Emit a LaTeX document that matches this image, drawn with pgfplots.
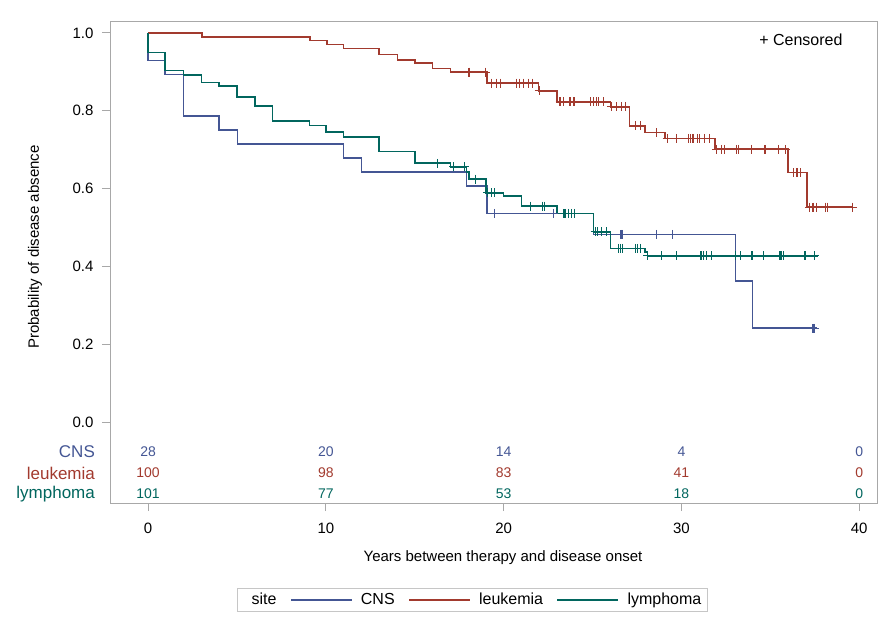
\documentclass[border=0pt]{standalone}
\usepackage{fontspec}
\setmainfont{Liberation Sans}
\usepackage{pgfplots}
\pgfplotsset{compat=1.18}
\definecolor{cns}{HTML}{445694}
\definecolor{leu}{HTML}{A23A2E}
\definecolor{lym}{HTML}{01665E}
\definecolor{framec}{HTML}{A8A8A8}
\begin{document}
\begin{tikzpicture}
\path[use as bounding box] (0pt,0pt) rectangle (886pt,624pt);
\begin{axis}[
  at={(110pt,121pt)}, anchor=south west,
  scale only axis, width=767pt, height=481pt,
  xmin=-2.14, xmax=41.0, ymin=-0.208, ymax=1.028,
  clip=false,
  xtick={0,10,20,30,40}, ytick={0,0.2,0.4,0.6,0.8,1.0},
  xtick pos=bottom, ytick pos=left,
  tick align=outside, major tick length=8pt,
  axis line style={draw=framec, line width=1pt},
  tick style={draw=framec, line width=1pt},
  /pgf/number format/assume math mode=true,
  ticklabel style={font=\fontsize{15}{17}\selectfont, text=black},
  xticklabel style={yshift=-8pt},
  yticklabel style={xshift=-5pt, /pgf/number format/.cd, fixed, fixed zerofill, precision=1},
  legend style={at={(0.4726,-0.2006)}, anchor=center, draw=gray!45,
    font=\fontsize{16}{18}\selectfont, inner xsep=4pt, inner ysep=3pt,
    /tikz/every odd column/.append style={column sep=8pt},
    /tikz/every even column/.append style={column sep=12pt}},
  legend columns=-1,
]
% Kaplan-Meier step curves
\addplot[const plot, cns, line width=1.6pt, forget plot] coordinates {
(0,1.0) (0,0.929) (0.96,0.893) (1.99,0.786) (3.99,0.750) (5.02,0.714)
(11.0,0.679) (12.0,0.643) (17.9,0.607) (19.05,0.536) (25.05,0.482)
(33.05,0.362) (34.0,0.241) (37.6,0.241)};
\addplot[const plot, leu, line width=1.6pt, forget plot] coordinates {
(0,1.0) (3.05,0.990) (9.1,0.980) (10.05,0.970) (11.0,0.960) (13.0,0.944)
(14.04,0.931) (15.0,0.922) (16.0,0.909) (17.0,0.899) (19.05,0.871)
(21.95,0.851) (23.0,0.823) (26.0,0.810) (27.07,0.761) (27.95,0.744)
(29.08,0.729) (31.9,0.701) (36.0,0.641) (37.05,0.552) (39.65,0.552)};
\addplot[const plot, lym, line width=1.6pt, forget plot] coordinates {
(0,1.0) (0,0.950) (0.96,0.903) (1.99,0.892) (3.0,0.873) (4.0,0.864)
(5.0,0.836) (6.0,0.812) (7.0,0.774) (9.07,0.762) (10.0,0.745) (11.0,0.733)
(13.0,0.695) (15.0,0.665) (17.0,0.656) (17.9,0.643) (18.05,0.624)
(19.0,0.589) (20.0,0.581) (21.0,0.555) (23.0,0.536) (25.05,0.489)
(26.0,0.446) (27.95,0.437) (28.1,0.427) (37.7,0.427)};
% censored marks
\addplot[only marks, mark=+, mark size=4.5pt, cns, mark options={line width=1.1pt}, forget plot] coordinates {
(19.5,0.536) (22.8,0.536) (26.6,0.482) (26.7,0.482) (28.6,0.482) (29.5,0.482)
(37.4,0.241) (37.5,0.241)};
\addplot[only marks, mark=+, mark size=4.5pt, leu, mark options={line width=1.1pt}, forget plot] coordinates {
(18.05,0.899) (19.0,0.899)
(19.3,0.871) (19.6,0.871) (19.8,0.871) (20.7,0.871) (20.9,0.871) (21.1,0.871) (21.4,0.871) (21.6,0.871)
(22.0,0.851)
(23.17,0.823) (23.36,0.823) (23.73,0.823) (23.96,0.823) (24.86,0.823) (25.05,0.823) (25.24,0.823) (25.33,0.823) (25.61,0.823)
(26.08,0.810) (26.36,0.810) (26.64,0.810) (26.83,0.810)
(27.4,0.761) (27.7,0.761) (28.6,0.744)
(29.2,0.729) (29.7,0.729) (30.4,0.729) (30.5,0.729) (30.6,0.729) (30.7,0.729) (30.9,0.729) (31.0,0.729) (31.3,0.729) (31.6,0.729)
(31.98,0.701) (32.27,0.701) (32.4,0.701) (33.1,0.701) (33.2,0.701) (33.95,0.701) (34.7,0.701) (35.45,0.701) (35.83,0.701)
(36.3,0.641) (36.5,0.641) (36.7,0.641)
(37.2,0.552) (37.4,0.552) (37.6,0.552) (38.1,0.552) (38.2,0.552) (39.6,0.552)};
\addplot[only marks, mark=+, mark size=4.5pt, lym, mark options={line width=1.1pt}, forget plot] coordinates {
(16.3,0.665) (17.2,0.656) (17.8,0.656) (18.4,0.624)
(19.1,0.589) (19.3,0.589) (19.5,0.589)
(21.5,0.555) (22.2,0.555) (22.3,0.555)
(23.35,0.536) (23.45,0.536) (23.65,0.536) (23.8,0.536) (24.0,0.536)
(25.15,0.489) (25.3,0.489) (25.5,0.489) (25.8,0.489)
(26.45,0.446) (26.55,0.446) (26.7,0.446) (27.4,0.446) (27.55,0.446) (27.7,0.446)
(28.1,0.427) (28.9,0.427) (29.7,0.427) (31.1,0.427) (31.25,0.427) (31.4,0.427) (31.7,0.427)
(33.05,0.427) (33.3,0.427) (33.95,0.427) (34.0,0.427) (34.6,0.427) (35.5,0.427) (35.6,0.427)
(35.75,0.427) (36.95,0.427) (37.5,0.427)};
% number at risk
\addplot[only marks, mark=none, nodes near coords, point meta=explicit symbolic,
  nodes near coords style={anchor=center, text=cns, font=\fontsize{14}{16}\selectfont}, forget plot]
  table[meta=n] {
x y n
0 -0.077 28
10 -0.077 20
20 -0.077 14
30 -0.077 4
40 -0.077 0
};
\addplot[only marks, mark=none, nodes near coords, point meta=explicit symbolic,
  nodes near coords style={anchor=center, text=leu, font=\fontsize{14}{16}\selectfont}, forget plot]
  table[meta=n] {
x y n
0 -0.131 100
10 -0.131 98
20 -0.131 83
30 -0.131 41
40 -0.131 0
};
\addplot[only marks, mark=none, nodes near coords, point meta=explicit symbolic,
  nodes near coords style={anchor=center, text=lym, font=\fontsize{14}{16}\selectfont}, forget plot]
  table[meta=n] {
x y n
0 -0.185 101
10 -0.185 77
20 -0.185 53
30 -0.185 18
40 -0.185 0
};
% row labels
\node[anchor=east, inner sep=0pt, text=cns, font=\fontsize{17}{19}\selectfont] at (axis cs:-2.98,-0.077) {CNS};
\node[anchor=east, inner sep=0pt, text=leu, font=\fontsize{17}{19}\selectfont] at (axis cs:-2.98,-0.131) {leukemia};
\node[anchor=east, inner sep=0pt, text=lym, font=\fontsize{17}{19}\selectfont] at (axis cs:-2.98,-0.185) {lymphoma};
% inset text
\node[font=\fontsize{16}{18}\selectfont] at (axis cs:36.72,0.982) {+ Censored};
% axis labels
\node[rotate=90, font=\fontsize{15}{17}\selectfont] at (axis description cs:-0.0978,0.532) {Probability of disease absence};
\node[font=\fontsize{15}{17}\selectfont] at (axis description cs:0.5124,-0.1143) {Years between therapy and disease onset};
% legend
\addlegendimage{empty legend}\addlegendentry{site\hspace{8pt}}
\addlegendimage{legend image code/.code={\fill[cns] (0pt,-0.55pt) rectangle (60pt,0.55pt);}}\addlegendentry{CNS}
\addlegendimage{legend image code/.code={\fill[leu] (0pt,-0.55pt) rectangle (60pt,0.55pt);}}\addlegendentry{leukemia}
\addlegendimage{legend image code/.code={\fill[lym] (0pt,-0.55pt) rectangle (60pt,0.55pt);}}\addlegendentry{lymphoma}
\end{axis}
\end{tikzpicture}
\end{document}
